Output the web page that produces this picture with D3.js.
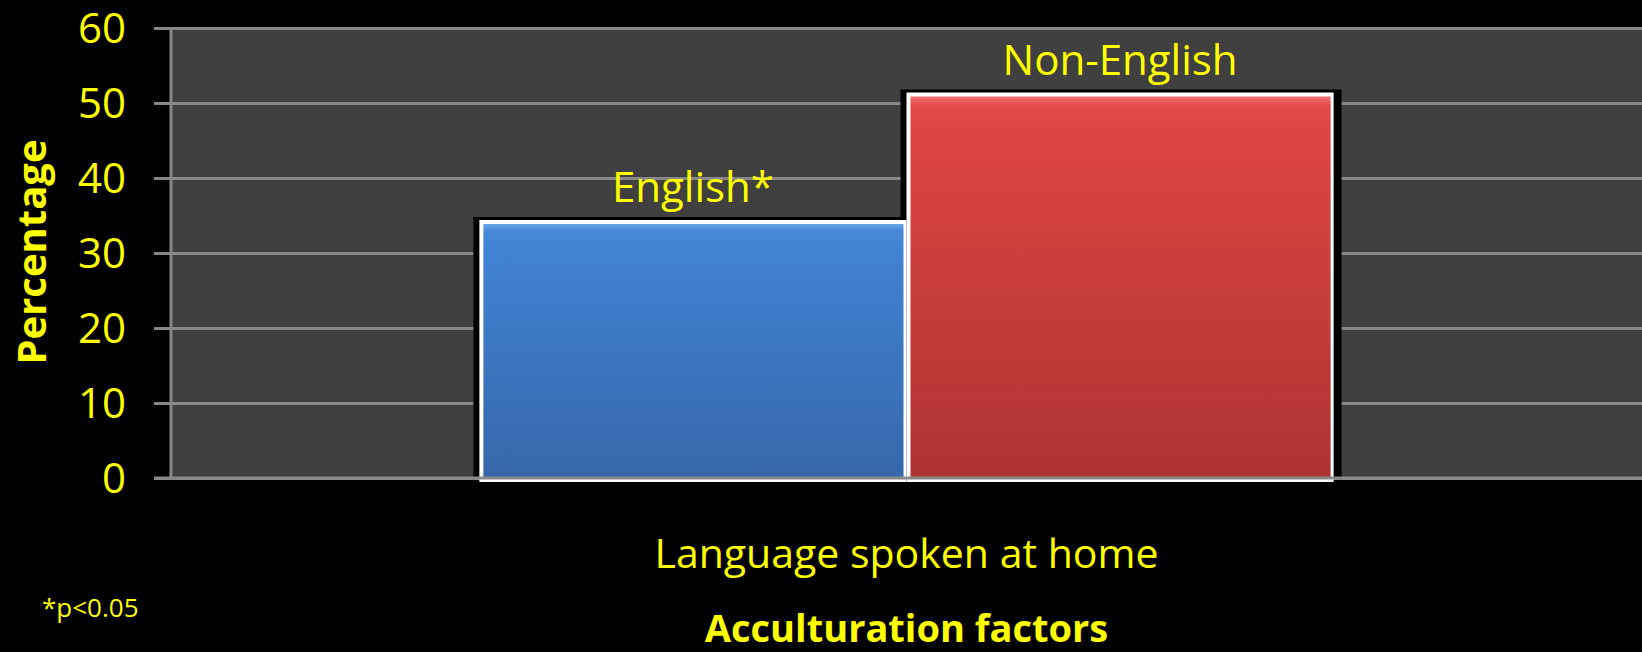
<!DOCTYPE html>
<html>
<head>
  <meta charset="utf-8">
  <title>Acculturation factors</title>
  <style>
    html, body { margin: 0; padding: 0; background: #000; }
    svg text { font-family: 'Open Sans', sans-serif; fill: #ffff00; }
  </style>
</head>
<body>
  <div id="chart"></div>
  <script src="https://cdn.jsdelivr.net/npm/d3@7"></script>
  <script>

    function translate(x, y) {
      return 'translate(' + x + ', ' + y + ')';
    }

    // data
    let categories = ['Language spoken at home'];
    let series = ['English*', 'Non-English'];
    let values = [34, 51];
    let yTicks = [0, 10, 20, 30, 40, 50, 60];

    let svgWidth = 1642;
    let svgHeight = 652;
    let margin = {top: 28, right: 0, bottom: 174, left: 171};
    let width = svgWidth - margin.left - margin.right;
    let height = svgHeight - margin.top - margin.bottom;

    let svg = d3.select('#chart')
      .append('svg')
        .attr('width', svgWidth)
        .attr('height', svgHeight)
        .style('display', 'block')
        .style('background', '#000');

    let defs = svg.append('defs');
    let gradients = [
      {id: 'grad-blue', stops: ['#6aa6ea', '#4a8ad8', '#4283d4', '#3667aa']},
      {id: 'grad-red', stops: ['#f07070', '#e34a48', '#dd4543', '#ae3332']}
    ];
    gradients.forEach(function(g) {
      let lg = defs.append('linearGradient')
        .attr('id', g.id)
        .attr('x1', 0).attr('y1', 0)
        .attr('x2', 0).attr('y2', 1);
      lg.append('stop').attr('offset', '0%').attr('stop-color', g.stops[0]);
      lg.append('stop').attr('offset', '2.5%').attr('stop-color', g.stops[1]);
      lg.append('stop').attr('offset', '8%').attr('stop-color', g.stops[2]);
      lg.append('stop').attr('offset', '100%').attr('stop-color', g.stops[3]);
    });
    let fillFor = ['url(#grad-blue)', 'url(#grad-red)'];

    let g = svg.append('g')
      .attr('transform', translate(margin.left, margin.top));

    let y = d3.scaleLinear()
      .domain([0, 60])
      .range([height, 0]);

    let x0 = d3.scaleBand()
      .domain(categories)
      .range([0, width])
      .paddingInner(0)
      .paddingOuter(0.361)
      .align(0.5);

    let x1 = d3.scaleBand()
      .domain(series)
      .range([0, x0.bandwidth()])
      .padding(0);

    // plot area
    g.append('rect')
      .attr('x', 0)
      .attr('y', 0)
      .attr('width', width)
      .attr('height', height)
      .style('fill', '#404040');

    // gridlines + ticks
    let yAxis = d3.axisLeft(y)
      .tickValues(yTicks)
      .tickSize(-width)
      .tickPadding(0)
      .tickFormat('');

    let yAxisG = g.append('g')
      .attr('class', 'y axis')
      .call(yAxis);
    yAxisG.select('.domain').remove();
    yAxisG.selectAll('.tick line')
      .attr('x1', -17)
      .style('stroke', '#888888')
      .style('stroke-width', 3);

    g.append('line')
      .attr('x1', 0).attr('x2', 0)
      .attr('y1', 0).attr('y2', height)
      .style('stroke', '#888888')
      .style('stroke-width', 3);

    g.selectAll('.y-label-tick')
      .data(yTicks)
      .enter()
      .append('text')
        .attr('class', 'y-label-tick')
        .attr('x', -45)
        .attr('y', d => y(d))
        .attr('dy', '0.36em')
        .style('text-anchor', 'end')
        .style('font-size', '42px')
        .text(d => d);

    // bars
    let cat = g.selectAll('.cat')
      .data(categories)
      .enter()
      .append('g')
        .attr('class', 'cat')
        .attr('transform', d => translate(x0(d), 0));

    let barData = series.map((s, i) => ({name: s, value: values[i], i: i}));

    cat.selectAll('.shadow')
      .data(barData)
      .enter()
      .append('rect')
        .attr('class', 'shadow')
        .attr('x', d => x1(d.name) - 6)
        .attr('y', d => y(d.value) - 6)
        .attr('width', x1.bandwidth() + 14)
        .attr('height', d => height - y(d.value) + 6)
        .style('fill', '#000');

    let bars = cat.selectAll('.bar')
      .data(barData)
      .enter()
      .append('g')
        .attr('class', 'bar');

    bars.append('rect')
      .attr('x', d => x1(d.name))
      .attr('y', d => y(d.value) - 3)
      .attr('width', x1.bandwidth())
      .attr('height', d => height - y(d.value) + 7)
      .style('fill', '#fff');

    bars.append('rect')
      .attr('x', d => x1(d.name) + 4)
      .attr('y', d => y(d.value) + 1)
      .attr('width', x1.bandwidth() - 7)
      .attr('height', d => height - y(d.value) - 1)
      .style('fill', d => fillFor[d.i]);

    bars.append('text')
      .attr('x', d => x1(d.name) + x1.bandwidth() / 2)
      .attr('y', d => y(d.value) - 21)
      .style('text-anchor', 'middle')
      .style('font-size', '42px')
      .text(d => d.name);

    // baseline
    g.append('line')
      .attr('x1', -17).attr('x2', width)
      .attr('y1', height).attr('y2', height)
      .style('stroke', '#888888')
      .style('stroke-width', 3);

    // category label
    g.selectAll('.cat-label')
      .data(categories)
      .enter()
      .append('text')
        .attr('class', 'cat-label')
        .attr('x', d => x0(d) + x0.bandwidth() / 2)
        .attr('y', 568 - margin.top)
        .style('text-anchor', 'middle')
        .style('font-size', '41px')
        .text(d => d);

    // axis titles
    svg.append('text')
      .attr('x', margin.left + width / 2)
      .attr('y', 642)
      .style('text-anchor', 'middle')
      .style('font-size', '38px')
      .style('font-weight', 'bold')
      .text('Acculturation factors');

    svg.append('text')
      .attr('transform', translate(46, 252) + ' rotate(-90)')
      .style('text-anchor', 'middle')
      .style('font-size', '40px')
      .style('font-weight', 'bold')
      .text('Percentage');

    svg.append('text')
      .attr('x', 42)
      .attr('y', 617)
      .style('font-size', '26px')
      .text('*p<0.05');

  </script>
</body>
</html>
